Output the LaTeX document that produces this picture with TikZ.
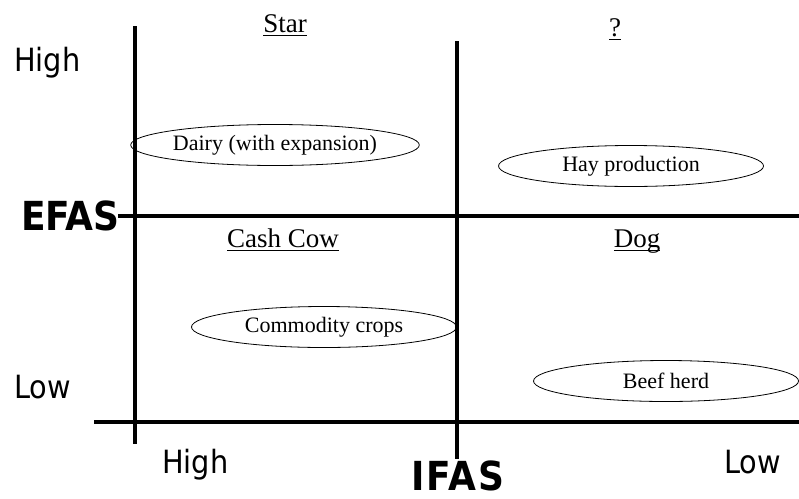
\documentclass[tikz,border=0pt]{standalone}
\usepackage{fontspec}
\setmainfont{Liberation Serif}
\newfontfamily\axisfont{DejaVu Sans Condensed}
\usepackage{tikz}
\usetikzlibrary{shapes.geometric}

% underline placed a little below the baseline
\newcommand{\qline}[1]{\setbox0\hbox{#1}\rlap{\vrule width\wd0 height -2.8pt depth 4.2pt}\box0}

\begin{document}
\begin{tikzpicture}[
  x=1pt, y=-1pt,
  axis/.style={line width=3.5pt},
  item/.style={
    ellipse, draw, line width=0.8pt,
    minimum width=265pt, minimum height=41pt,
    inner sep=0pt,
    font=\fontsize{22}{26}\selectfont,
  },
  quad/.style={anchor=base, inner sep=0pt, font=\fontsize{27}{32}\selectfont},
  level/.style={anchor=base west, inner sep=0pt, font=\axisfont\fontsize{32}{36}\selectfont},
  axname/.style={anchor=base west, inner sep=0pt, font=\axisfont\bfseries\fontsize{40}{44}\selectfont},
]
\useasboundingbox (0,0) rectangle (799,498);

% --- Axis ends ---
\coordinate (EL) at (118,216);
\coordinate (ER) at (799,216);
\coordinate (BL) at (94,422);
\coordinate (BR) at (799,422);
\coordinate (LT) at (135,26);
\coordinate (LB) at (135,444);
\coordinate (MT) at (457,41);
\coordinate (MB) at (457,459);

% --- Axes ---
\draw[axis] (EL) -- (ER);
\draw[axis] (BL) -- (BR);
\draw[axis] (LT) -- (LB);
\draw[axis] (MT) -- (MB);

% --- Quadrant names ---
\node[quad] (star) at (285,32) {\qline{Star}};
\node[quad] (unk) at (615,36) {\qline{?}};
\node[quad] (cash) at (283,247) {\qline{Cash Cow}};
\node[quad] (dog) at (637,247) {\qline{Dog}};

% --- Enterprises ---
\node[item] (dairy) at (275,145) {Dairy (with expansion)};
\node[item] (hay) at (631,166) {Hay production};
\node[item] (crops) at (324,327) {Commodity crops};
\node[item] (beef) at (666,381) {Beef herd};

% --- Axis labels ---
\node[level] (hiE) at (14,71) {High};
\node[level] (loE) at (14,398) {Low};
\node[level] (hiI) at (162,473) {High};
\node[level] (loI) at (724,473) {Low};
\node[axname] (efas) at (21,230) {EFAS};
\node[axname] (ifas) at (411,490) {\addfontfeature{LetterSpace=5}IFAS};

\end{tikzpicture}
\end{document}
